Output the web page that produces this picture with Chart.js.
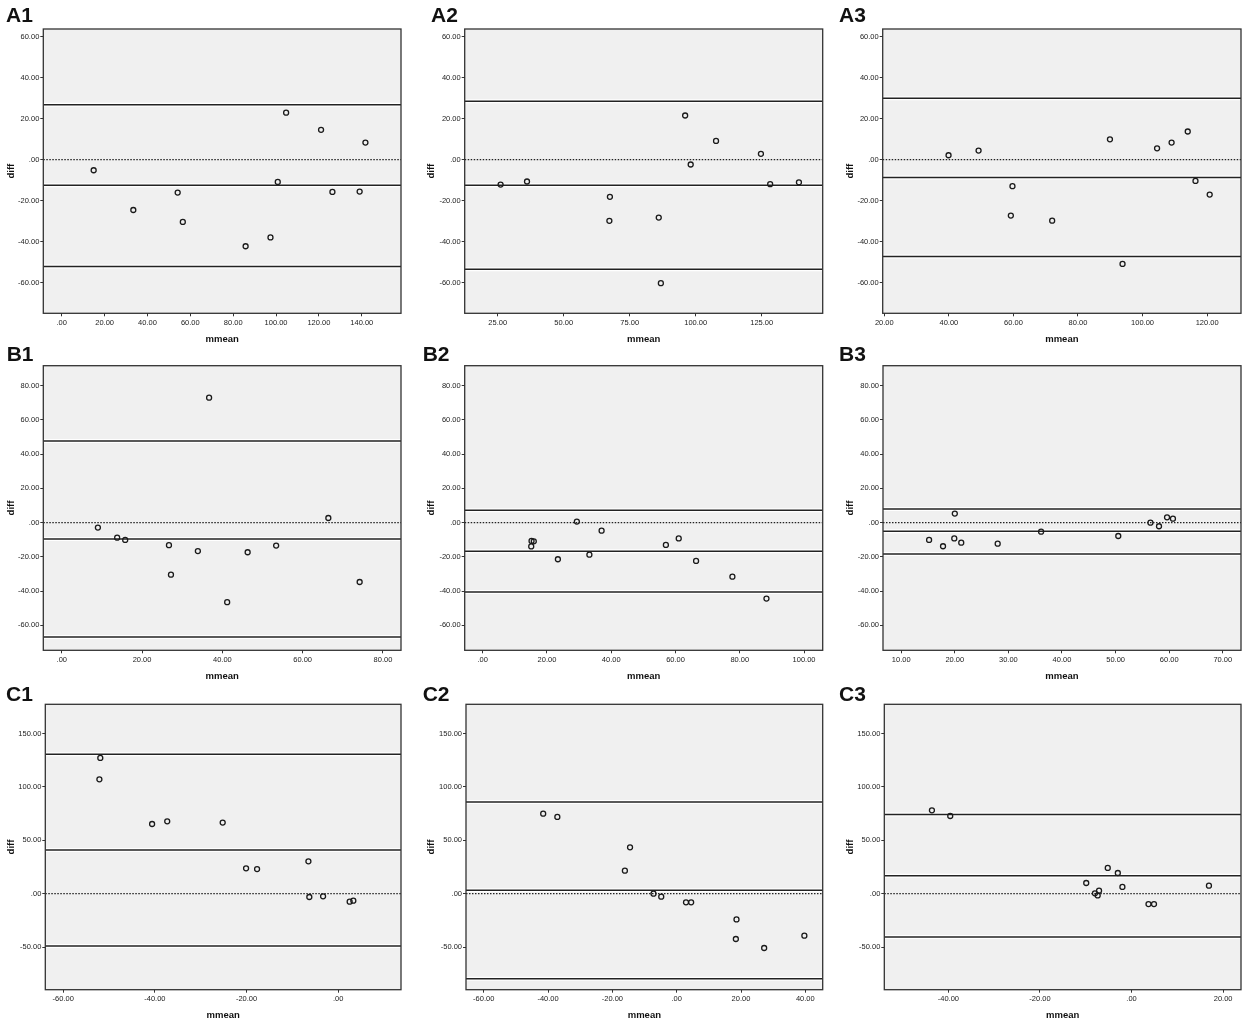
<!DOCTYPE html>
<html>
<head>
<meta charset="utf-8">
<script src="https://cdn.jsdelivr.net/npm/chart.js@4.4.1/dist/chart.umd.min.js"></script>
<style>
body { margin:0; background:#fff; width:1248px; height:1026px; position:relative; overflow:hidden; font-family:"Liberation Sans", Arial, sans-serif; }
.cell { position:absolute; }
.lab { position:absolute; font-weight:bold; font-size:21px; line-height:21px; color:#111; }
</style>
</head>
<body>
<script>
// Bland-Altman panels, 12 subjects each: mean of methods (x) vs difference (y)
var xA1 = [14.9, 33.4, 54.1, 56.5, 85.8, 97.4, 100.8, 104.7, 121.0, 126.3, 139.0, 141.7];
var yA1 = [-5.2, -24.6, -16.1, -30.4, -42.3, -38.0, -10.9, 22.9, 14.5, -15.8, -15.6, 8.3];
var limitsA1 = [26.8, -12.5, -52.2];

var xA2 = [26.1, 36.1, 67.5, 67.3, 86.0, 86.8, 96.0, 98.1, 107.7, 124.7, 128.2, 139.1];
var yA2 = [-12.2, -10.7, -18.2, -29.9, -28.3, -60.3, 21.5, -2.4, 9.1, 2.8, -12.0, -11.1];
var limitsA2 = [28.5, -12.5, -53.5];

var xA3 = [39.9, 49.2, 59.7, 59.2, 72.0, 89.9, 93.8, 104.5, 109.0, 114.0, 116.4, 120.8];
var yA3 = [2.1, 4.4, -13.0, -27.3, -29.8, 9.9, -50.9, 5.5, 8.3, 13.7, -10.4, -17.1];
var limitsA3 = [29.9, -8.8, -47.3];

var xB1 = [9.0, 13.8, 15.8, 26.7, 27.2, 33.9, 36.7, 41.2, 46.3, 53.4, 66.4, 74.2];
var yB1 = [-2.9, -8.8, -10.1, -13.2, -30.4, -16.6, 73.0, -46.5, -17.3, -13.4, 2.7, -34.7];
var limitsB1 = [47.7, -9.5, -66.8];

var xB2 = [15.2, 15.9, 15.1, 23.4, 29.3, 33.2, 37.0, 57.0, 61.0, 66.4, 77.7, 88.3];
var yB2 = [-10.7, -10.9, -13.9, -21.4, 0.6, -18.7, -4.7, -13.0, -9.2, -22.4, -31.6, -44.4];
var limitsB2 = [7.2, -16.7, -40.5];

var xB3 = [15.2, 17.8, 19.9, 20.0, 21.2, 28.0, 36.1, 50.5, 56.5, 58.1, 59.6, 60.7];
var yB3 = [-10.1, -13.8, -9.2, 5.3, -11.7, -12.3, -5.3, -7.8, 0.0, -2.1, 3.1, 2.3];
var limitsB3 = [8.0, -5.1, -18.3];

var xC1 = [-51.9, -52.1, -40.6, -37.3, -25.2, -20.1, -17.7, -6.5, -6.3, -3.3, 2.5, 3.3];
var yC1 = [127.2, 107.2, 65.3, 67.8, 66.6, 23.8, 23.1, 30.3, -3.1, -2.5, -7.5, -6.6];
var limitsC1 = [130.6, 40.9, -49.1];

var xC2 = [-41.5, -37.1, -14.5, -16.1, -7.2, -4.8, 2.9, 4.5, 18.6, 18.4, 27.2, 39.7];
var yC2 = [75.0, 71.9, 43.4, 21.6, 0.0, -2.8, -8.1, -8.1, -24.1, -42.5, -50.9, -39.4];
var limitsC2 = [85.9, 3.1, -79.7];

var xC3 = [-43.6, -39.6, -9.9, -8.0, -7.1, -7.4, -5.2, -3.0, -2.0, 3.7, 4.9, 16.9];
var yC3 = [78.1, 72.8, 10.0, 0.3, 2.8, -1.6, 24.1, 19.4, 6.3, -9.7, -9.7, 7.5];
var limitsC3 = [74.1, 16.9, -40.6];

// tick labels
var xTicksA1 = [0, 20, 40, 60, 80, 100, 120, 140];
var xTicksA2 = [25, 50, 75, 100, 125];
var xTicksA3 = [20, 40, 60, 80, 100, 120];
var xTicksB1 = [0, 20, 40, 60, 80];
var xTicksB2 = [0, 20, 40, 60, 80, 100];
var xTicksB3 = [10, 20, 30, 40, 50, 60, 70];
var xTicksC1 = [-60, -40, -20, 0];
var xTicksC2 = [-60, -40, -20, 0, 20, 40];
var xTicksC3 = [-40, -20, 0, 20];
var yTicksA = [-60, -40, -20, 0, 20, 40, 60];
var yTicksB = [-60, -40, -20, 0, 20, 40, 60, 80];
var yTicksC = [-50, 0, 50, 100, 150];

var FONT = '"Liberation Sans", Arial, sans-serif';

// SPSS style labels: .00, 20.00, -40.00
function spss(v) {
	var s = Math.abs(v).toFixed(2);
	if (s.charAt(0) === '0') s = s.slice(1);
	return (v < 0 ? '-' : '') + s;
}

var panelBox = {
	id: 'panelBox',
	beforeDraw: function(chart) {
		var a = chart.chartArea, c = chart.ctx;
		c.save();
		c.fillStyle = '#f0f0f0';
		c.fillRect(a.left, a.top, a.right - a.left, a.bottom - a.top);
		c.restore();
	},
	afterDraw: function(chart) {
		var a = chart.chartArea, c = chart.ctx;
		c.save();
		c.strokeStyle = '#333';
		c.lineWidth = 1.3;
		c.strokeRect(a.left, a.top, a.right - a.left, a.bottom - a.top);
		c.restore();
	}
};

// chart area [left, top, right, bottom] in page px
var panels = [
	{ name: 'A1', col: 0, row: 0, area: [43.3, 29, 401, 313.3], xs: xA1, ys: yA1, lim: limitsA1, xr: [-8.6, 158.3], xt: xTicksA1, yr: [-75, 63.7], yt: yTicksA },
	{ name: 'A2', col: 1, row: 0, area: [464.7, 29, 822.7, 313.3], xs: xA2, ys: yA2, lim: limitsA2, xr: [12.5, 148.1], xt: xTicksA2, yr: [-75, 63.7], yt: yTicksA },
	{ name: 'A3', col: 2, row: 0, area: [882.7, 29, 1241, 313.3], xs: xA3, ys: yA3, lim: limitsA3, xr: [19.5, 130.5], xt: xTicksA3, yr: [-75, 63.7], yt: yTicksA },
	{ name: 'B1', col: 0, row: 1, area: [43.3, 365.7, 401, 650.3], xs: xB1, ys: yB1, lim: limitsB1, xr: [-4.6, 84.5], xt: xTicksB1, yr: [-74.6, 91.7], yt: yTicksB },
	{ name: 'B2', col: 1, row: 1, area: [464.7, 365.7, 822.7, 650.3], xs: xB2, ys: yB2, lim: limitsB2, xr: [-5.6, 105.8], xt: xTicksB2, yr: [-74.6, 91.7], yt: yTicksB },
	{ name: 'B3', col: 2, row: 1, area: [883, 365.7, 1241, 650.3], xs: xB3, ys: yB3, lim: limitsB3, xr: [6.6, 73.4], xt: xTicksB3, yr: [-74.6, 91.7], yt: yTicksB },
	{ name: 'C1', col: 0, row: 2, area: [45.3, 704.3, 401, 989.7], xs: xC1, ys: yC1, lim: limitsC1, xr: [-63.9, 13.7], xt: xTicksC1, yr: [-90, 177.5], yt: yTicksC },
	{ name: 'C2', col: 1, row: 2, area: [466, 704.3, 822.7, 989.7], xs: xC2, ys: yC2, lim: limitsC2, xr: [-65.5, 45.4], xt: xTicksC2, yr: [-90, 177.5], yt: yTicksC },
	{ name: 'C3', col: 2, row: 2, area: [884.3, 704.3, 1241, 989.7], xs: xC3, ys: yC3, lim: limitsC3, xr: [-54, 23.9], xt: xTicksC3, yr: [-90, 177.5], yt: yTicksC }
];

var colX = [0, 416, 832];
var rowY = [0, 345, 680];
var rowH = [345, 335, 346];
var labLeft = [[6, 431, 839], [6.7, 422.7, 839], [6, 422.7, 839]];
var labTop = [3.9, 342.7, 683.4];
var xTitlePad = [0, -2.4, 4.6];
var yTitlePad = [5.3, 9.3, 12.6];

panels.forEach(function(p) {
	var x0 = colX[p.col], y0 = rowY[p.row], h = rowH[p.row];
	var a = p.area;

	var div = document.createElement('div');
	div.className = 'cell';
	div.style.left = x0 + 'px';
	div.style.top = y0 + 'px';
	div.style.width = '416px';
	div.style.height = h + 'px';
	var cv = document.createElement('canvas');
	cv.width = 416;
	cv.height = h;
	div.appendChild(cv);
	document.body.appendChild(div);

	var lab = document.createElement('div');
	lab.className = 'lab';
	lab.style.left = labLeft[p.row][p.col] + 'px';
	lab.style.top = labTop[p.row] + 'px';
	lab.textContent = p.name;
	document.body.appendChild(lab);

	var pts = p.xs.map(function(v, i) { return { x: v, y: p.ys[i] }; });
	function hline(v) { return [{ x: p.xr[0], y: v }, { x: p.xr[1], y: v }]; }

	var datasets = [{
		type: 'scatter',
		data: pts,
		pointRadius: 2.5,
		pointBorderWidth: 1.3,
		pointBorderColor: '#1a1a1a',
		pointBackgroundColor: 'rgba(0,0,0,0)'
	}];
	p.lim.forEach(function(v) {
		datasets.push({ type: 'line', data: hline(v), borderColor: '#222', borderWidth: 1.5, pointRadius: 0, fill: false });
	});
	datasets.push({ type: 'line', data: hline(0), borderColor: '#222', borderWidth: 1.3, borderDash: [1.5, 1.5], pointRadius: 0, fill: false });
	p.lim.forEach(function(v) {
		datasets.push({ type: 'line', data: hline(v), borderColor: '#ffffff', borderWidth: 4, pointRadius: 0, fill: false });
	});

	new Chart(cv, {
		type: 'scatter',
		data: { datasets: datasets },
		plugins: [panelBox],
		options: {
			responsive: false,
			animation: false,
			events: [],
			layout: { padding: { top: a[1] - y0, right: x0 + 416 - a[2], left: 0, bottom: 0 } },
			plugins: { legend: { display: false }, tooltip: { enabled: false } },
			scales: {
				x: {
					type: 'linear',
					min: p.xr[0],
					max: p.xr[1],
					afterBuildTicks: function(s) { s.ticks = p.xt.map(function(v) { return { value: v }; }); },
					afterFit: function(s) { s.height = y0 + h - a[3]; },
					grid: { display: true, drawOnChartArea: false, drawTicks: true, tickLength: 3, color: '#333', lineWidth: 1 },
					border: { display: false },
					ticks: { callback: spss, font: { size: 7.5, family: FONT }, color: '#222', padding: 2, maxRotation: 0, autoSkip: false },
					title: { display: true, text: 'mmean', color: '#111', font: { size: 9.5, weight: 'bold', family: FONT }, padding: { top: 0, bottom: xTitlePad[p.row] } }
				},
				y: {
					type: 'linear',
					min: p.yr[0],
					max: p.yr[1],
					afterBuildTicks: function(s) { s.ticks = p.yt.map(function(v) { return { value: v }; }); },
					afterFit: function(s) { s.width = a[0] - x0; },
					grid: { display: true, drawOnChartArea: false, drawTicks: true, tickLength: 3, color: '#333', lineWidth: 1 },
					border: { display: false },
					ticks: { callback: spss, font: { size: 7.5, family: FONT }, color: '#222', padding: 1, autoSkip: false },
					title: { display: true, text: 'diff', color: '#111', font: { size: 9.5, weight: 'bold', family: FONT }, padding: { top: yTitlePad[p.col], bottom: 0 } }
				}
			}
		}
	});
});
</script>
</body>
</html>
